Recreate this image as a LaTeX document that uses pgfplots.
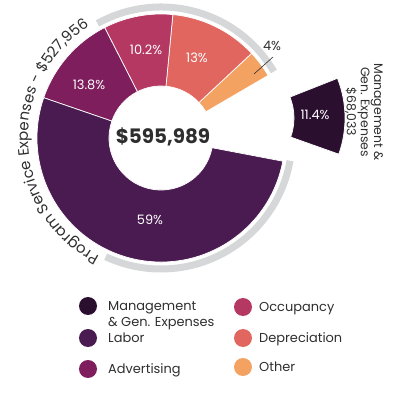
\documentclass[border=0pt]{standalone}
\usepackage{fontspec}
\setmainfont{Poppins}
\usepackage{pgfplots}
\pgfplotsset{compat=1.18}
\usetikzlibrary{decorations.text}

\definecolor{cMgmt}{HTML}{2B0F2F}
\definecolor{cLab}{HTML}{4A1B50}
\definecolor{cAdv}{HTML}{7E1E5C}
\definecolor{cOcc}{HTML}{B43862}
\definecolor{cDep}{HTML}{E0665F}
\definecolor{cOth}{HTML}{F4A262}
\definecolor{cRing}{HTML}{D6D7D9}
\definecolor{txt}{HTML}{2E2E2E}

% slice: cx cy a1 a2 rin rout color
\newcommand\slice[7]{%
  \fill[#7, draw=white, line width=0.7bp]
    (axis cs:{#1+#5*cos(#3)},{#2+#5*sin(#3)})
    arc[start angle=#3, end angle=#4, radius=#5bp]
    -- (axis cs:{#1+#6*cos(#4)},{#2+#6*sin(#4)})
    arc[start angle=#4, end angle=#3, radius=#6bp] -- cycle;}

\begin{document}
\begin{tikzpicture}
% ---- data ----
\def\total{595989}
\def\mgmt{68033}
\def\prog{527956}
\def\pOther{4}
\def\pDep{13}
\def\pOcc{10.2}
\def\pAdv{13.8}
\def\pLab{59}
% ---- angles ----
\edef\mspan{\fpeval{360*\mgmt/\total}}
\edef\aS{-10.8}
\edef\aM{\fpeval{\aS+\mspan}}
\edef\pspan{\fpeval{360-\mspan}}
\edef\aO{\fpeval{\aM+\pspan*\pOther/100}}
\edef\aD{\fpeval{\aO+\pspan*\pDep/100}}
\edef\aC{\fpeval{\aD+\pspan*\pOcc/100}}
\edef\aA{\fpeval{\aC+\pspan*\pAdv/100}}
\edef\aL{\fpeval{\aA+\pspan*\pLab/100}}
\edef\mA{\fpeval{1-\mspan/2}}
\edef\mB{\fpeval{1+\mspan/2}}
\begin{axis}[name=ax, x=1bp, y=1bp, xmin=-161, xmax=239, ymin=-257, ymax=138,
  hide axis, clip=false, enlargelimits=false]
\addplot[draw=none] coordinates {(0,0)};
% gray ring
\draw[cRing, line width=7bp] (axis cs:{131*cos(30.5)},{131*sin(30.5)}) arc[start angle=30.5, end angle=119, radius=131bp];
\draw[cRing, line width=7bp] (axis cs:{131*cos(-10)},{131*sin(-10)}) arc[start angle=-10, end angle=-115, radius=131bp];
% slices
\slice{0}{0}{\aM}{\aO}{52}{124}{cOth}
\slice{0}{0}{\aO}{\aD}{52}{124}{cDep}
\slice{0}{0}{\aD}{\aC}{52}{124}{cOcc}
\slice{0}{0}{\aC}{\aA}{52}{124}{cAdv}
\slice{0}{0}{\aA}{\aL}{52}{124}{cLab}
\slice{76}{20}{\mA}{\mB}{57}{108}{cMgmt}
% slice labels
\begin{scope}[every node/.style={font=\fontsize{13}{14}\selectfont}]
\node[white] at (axis cs:-11,-82) {59\%};
\node[white] at (axis cs:-72,53) {13.8\%};
\node[white] at (axis cs:-15,88) {10.2\%};
\node[white] at (axis cs:36,80) {13\%};
\node[white] at (axis cs:154,23) {11.4\%};
\node[txt] at (axis cs:111,92) {4\%};
\end{scope}
\draw[txt, line width=0.6bp] (axis cs:93,64) -- (axis cs:112,81);
% center total
\node[txt, font=\bfseries\fontsize{20}{21}\selectfont] at (axis cs:2,1) {\$595,989};
% arc text
\path[decorate, decoration={text along path, text align=center,
  text={|\fontsize{15}{16}\selectfont\color{txt}|Program Service Expenses - {\$}527,956}}]
  (axis cs:{133*cos(245)},{133*sin(245)}) arc[start angle=245, end angle=120, radius=133bp];
% management label
\node[txt, rotate=-90, align=center, font=\fontsize{12.5}{12}\selectfont] at (axis cs:203,26)
  {Management \&\\Gen. Expenses\\\$68,033};
% legend
\begin{scope}[every node/.style={font=\fontsize{13}{14}\selectfont, text=txt}]
\fill[cMgmt] (axis cs:-73,-168) circle[radius=9bp];
\fill[cLab] (axis cs:-73,-200) circle[radius=9bp];
\fill[cAdv] (axis cs:-73,-231) circle[radius=9bp];
\fill[cOcc] (axis cs:82,-169) circle[radius=9bp];
\fill[cDep] (axis cs:82,-200) circle[radius=9bp];
\fill[cOth] (axis cs:82,-229) circle[radius=9bp];
\node[anchor=base west, inner sep=0pt] at (axis cs:-53,-172.5) {Management};
\node[anchor=base west, inner sep=0pt] at (axis cs:-53,-188.5) {\& Gen. Expenses};
\node[anchor=base west, inner sep=0pt] at (axis cs:-53,-204.5) {Labor};
\node[anchor=base west, inner sep=0pt] at (axis cs:-53,-235.5) {Advertising};
\node[anchor=base west, inner sep=0pt] at (axis cs:98,-173.5) {Occupancy};
\node[anchor=base west, inner sep=0pt] at (axis cs:98,-204.5) {Depreciation};
\node[anchor=base west, inner sep=0pt] at (axis cs:98,-233.5) {Other};
\end{scope}
\end{axis}
\pgfresetboundingbox
\useasboundingbox (ax.south west) rectangle (ax.north east);
\end{tikzpicture}
\end{document}
